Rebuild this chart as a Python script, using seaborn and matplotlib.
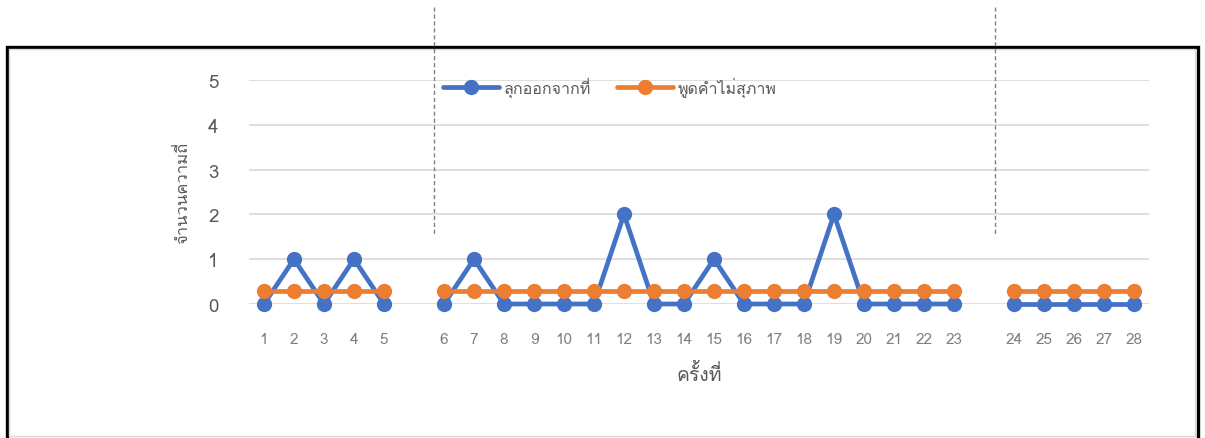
import numpy as np
import pandas as pd
import seaborn as sns
import matplotlib
matplotlib.use("Agg")
from matplotlib import pyplot as plt
from matplotlib import font_manager
from matplotlib.ft2font import FT2Font
from matplotlib.lines import Line2D
from matplotlib.patches import Rectangle

# ข้อมูล: ครั้งที่ 1-28 แบ่งเป็น 3 ช่วง
groups = [list(range(1, 6)), list(range(6, 24)), list(range(24, 29))]
series_names = ["ลุกออกจากที่", "พูดคำไม่สุภาพ"]
leave_seat = [0, 1, 0, 1, 0,
              0, 1, 0, 0, 0, 0, 2, 0, 0, 1, 0, 0, 0, 2, 0, 0, 0, 0,
              0, 0, 0, 0, 0]
rude_words = [0.3] * 28
y_ticks = [0, 1, 2, 3, 4, 5]

# หาฟอนต์ที่มีอักษรไทย
thai_font = None
for f in font_manager.fontManager.ttflist:
    try:
        if 0x0E01 in FT2Font(f.fname).get_charmap():
            thai_font = f.name
            break
    except Exception:
        pass

sns.set_style("white")
plt.rcParams["font.family"] = ([thai_font] if thai_font else []) + ["DejaVu Sans"]

# ตำแหน่งบนแกน x เว้นช่องว่างระหว่างช่วง
rows = []
labels, positions = [], []
pos = 0
i = 0
for g, grp in enumerate(groups):
    for c in grp:
        labels.append(str(c))
        positions.append(pos)
        rows.append((pos, leave_seat[i], series_names[0], g))
        rows.append((pos, rude_words[i], series_names[1], g))
        pos += 1
        i += 1
    pos += 1
df = pd.DataFrame(rows, columns=["pos", "value", "series", "segment"])

colors = {series_names[0]: "#4472C4", series_names[1]: "#ED7D31"}

fig = plt.figure(figsize=(12.05, 4.39), dpi=100)
ax = fig.add_axes([249 / 1205, (439 - 305) / 439, 900 / 1205, 224 / 439])

sns.lineplot(data=df, x="pos", y="value", hue="series", units="segment",
             estimator=None, palette=colors, hue_order=series_names,
             marker="o", markersize=11, markeredgewidth=0, linewidth=3.4,
             legend=False, ax=ax)

ax.set_xlim(-0.5, pos - 1.5)
ax.set_ylim(0, 5)
ax.set_yticks(y_ticks)
ax.set_xticks(positions)
ax.set_xticklabels(labels)
ax.tick_params(axis="x", length=0, pad=20, labelsize=11, labelcolor="#7f7f7f")
ax.tick_params(axis="y", length=0, pad=22, labelsize=13.5, labelcolor="#595959")
ax.grid(axis="y", color="#d9d9d9", linewidth=1.2)
ax.grid(axis="x", visible=False)
for s in ax.spines.values():
    s.set_visible(False)
for ln in ax.get_lines():
    ln.set_clip_on(False)

ax.set_xlabel("ครั้งที่", fontsize=14, color="#595959", labelpad=12)
ax.set_ylabel("จำนวนความถี่", fontsize=12, color="#595959", labelpad=12)

handles = [Line2D([], [], color=colors[n], marker="o", markersize=11,
                  markeredgewidth=0, linewidth=3.4) for n in series_names]
ax.legend(handles, series_names, loc="center left", bbox_to_anchor=(0.216, 0.969),
          ncol=2, frameon=False, fontsize=11.5, labelcolor="#595959",
          handlelength=3.5, handletextpad=0.3, columnspacing=1.6,
          borderpad=0, borderaxespad=0)

# กรอบรอบแผนภูมิ
fig.add_artist(Rectangle((6.5 / 1205, -0.05), 1191 / 1205, (439 - 48) / 439 + 0.05,
                         transform=fig.transFigure, fill=False, edgecolor="black",
                         linewidth=2.4, clip_on=False))
fig.add_artist(Rectangle((9 / 1205, 2 / 439), 1186 / 1205, (437 - 50) / 439,
                         transform=fig.transFigure, fill=False, edgecolor="#d9d9d9",
                         linewidth=1, clip_on=False))
# เส้นประแนวตั้ง
for xp in (434, 995):
    fig.add_artist(Line2D([xp / 1205, xp / 1205], [(439 - 8) / 439, (439 - 237) / 439],
                          transform=fig.transFigure, color="#808080",
                          linewidth=1, linestyle=(0, (3, 2))))

fig.savefig("out.png", dpi=100)
